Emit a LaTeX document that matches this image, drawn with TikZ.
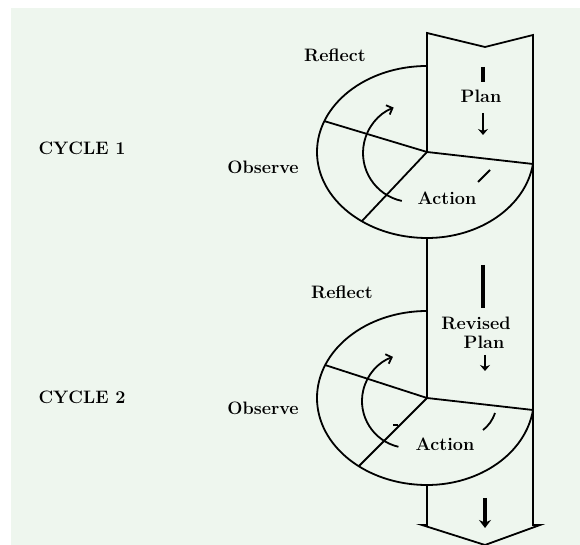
\documentclass[tikz,border=0pt]{standalone}
\definecolor{mint}{RGB}{238,246,238}
\usetikzlibrary{arrows.meta}

\begin{document}
\begin{tikzpicture}[x=1pt,y=1pt,
    lbl/.style={font=\fontsize{18}{20}\selectfont\bfseries},
    edge/.style={line width=1.8pt},
    barb/.style={edge,-{Straight Barb[length=5pt,width=10pt]}},
    down/.style={line width=2.5pt,-{Stealth[length=6pt,width=10pt]}}]
    \useasboundingbox (0,0) rectangle (580,545);
    \fill[mint] (11,0) rectangle (580,537);

    \coordinate (c1) at (427,393);
    \coordinate (c2) at (427,147);

    \draw[edge,line join=miter] (c1) -- (427,512) -- (485,498) -- (533,510) -- (533,20) -- (540,20) -- (485,0) -- (422,20) -- (427,20) -- (427,60);
    \draw[edge] (427,307) -- (c2);

    \draw[edge] (c1) ++(0,86) arc[start angle=90,end angle=270,x radius=110,y radius=86] arc[start angle=270,end angle=352,x radius=107,y radius=86];
    \draw[edge] (c1) -- ++(-103,31);
    \draw[edge] (c1) -- ++(-65,-69);
    \draw[edge] (c1) -- ++(106,-12);
    \draw[barb] (c1) ++(-15,-1) ++(258:49) arc[start angle=258,end angle=112,radius=49];
    \draw[edge] (c1) ++(51,-30) -- ++(12,12);

    \draw[edge] (c2) ++(0,87) arc[start angle=90,end angle=270,x radius=110,y radius=87] arc[start angle=270,end angle=352,x radius=107,y radius=87];
    \draw[edge] (c2) -- ++(-102,33);
    \draw[edge] (c2) -- ++(-68,-68);
    \draw[edge] (c2) -- ++(106,-12);
    \draw[barb] (c2) ++(-18,-3) ++(257:47) arc[start angle=257,end angle=110,radius=47];
    \draw[edge] (c2) ++(56,-32) to[bend right=15] ++(12,17);
    \draw[edge] (c2) ++(-34,-27) -- ++(5,0);

    \draw[line width=4.5pt] (483,478) -- (483,463);
    \draw[down] (483,432) -- (483,410);
    \draw[line width=4.5pt] (483,280) -- (483,237);
    \draw[down] (485,190) -- (485,174);
    \draw[line width=3.5pt,-{Stealth[length=8pt,width=12pt]}] (485,47) -- (485,17);

    \node[lbl] (refl1) at (335,490) {Reflect};
    \node[lbl] (plan1) at (481,449) {Plan};
    \node[lbl] (cyc1) at (82,397) {CYCLE 1};
    \node[lbl] (obs1) at (263,378) {Observe};
    \node[lbl] (act1) at (447,347) {Action};

    \node[lbl] (refl2) at (342,253) {Reflect};
    \node[lbl] (rev2) at (476,222) {Revised};
    \node[lbl] (plan2) at (484,203) {Plan};
    \node[lbl] (cyc2) at (82,148) {CYCLE 2};
    \node[lbl] (obs2) at (263,137) {Observe};
    \node[lbl] (act2) at (445,101) {Action};
\end{tikzpicture}
\end{document}
